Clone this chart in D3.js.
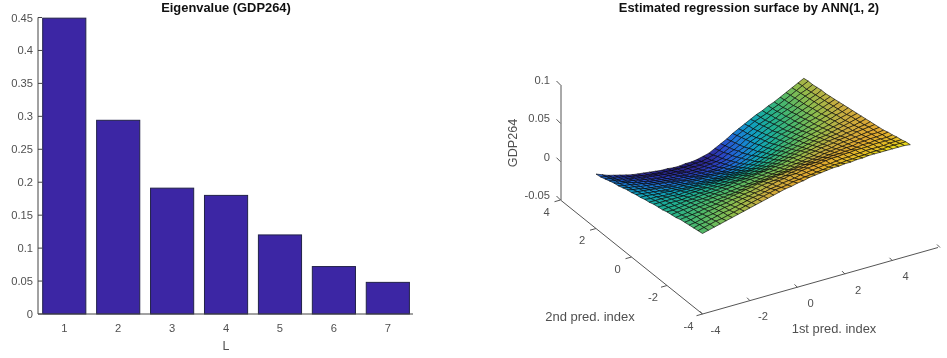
<!DOCTYPE html>
<html><head><meta charset="utf-8"><style>html,body{margin:0;background:#fff}svg{display:block;filter:blur(.3px)}text{font-family:"Liberation Sans",Arial,sans-serif;fill:#505050}</style>
<script src="https://cdn.jsdelivr.net/npm/d3@7"></script></head><body><svg id="c" width="947" height="358"></svg>
<script>
const categories=[1,2,3,4,5,6,7];
const eigenvalues=[.449,.294,.191,.18,.12,.072,.048];
const eigTicks=[0,.05,.1,.15,.2,.25,.3,.35,.4,.45];
const xGrid=[-4,-3.75,-3.5,-3.25,-3,-2.75,-2.5,-2.25,-2,-1.75,-1.5,-1.25,-1,-.75,-.5,-.25,0,.25,.5,.75,1,1.25,1.5,1.75,2,2.25,2.5,2.75,3,3.25,3.5,3.75,4,4.25,4.5,4.75];
const yGrid=[2,1.75,1.5,1.25,1,.75,.5,.25,0,-.25,-.5,-.75,-1,-1.25,-1.5,-1.75,-2,-2.25,-2.5,-2.75,-3,-3.25,-3.5,-3.75,-4];
const zTicks=[-.05,0,.05,.1],yTicks=[4,2,0,-2,-4],xTicks=[-4,-2,0,2,4,6];
// surface height, in thousandths; one row per yGrid value, one column per xGrid value
const zMilli=[
[21,18,15,13,11,9,7,6,5,4,3,2,2,1,1,2,2,3,5,7,11,15,19,24,28,32,36,40,43,47,50,54,58,62,66,70],
[22,20,17,15,13,11,10,8,7,6,5,5,4,4,4,4,5,5,7,9,13,17,21,26,30,34,38,41,44,48,51,55,59,63,67,71],
[24,22,19,17,15,14,12,11,10,9,8,7,7,6,7,7,7,8,9,12,15,19,23,28,31,35,39,42,46,49,52,56,60,64,67,71],
[26,24,21,19,18,16,15,13,12,11,11,10,10,9,9,9,10,11,12,14,18,21,25,30,33,37,41,44,47,51,54,57,61,65,68,72],
[28,25,24,22,20,19,17,16,15,14,13,13,12,12,12,12,13,13,15,17,20,24,27,32,35,39,43,46,49,52,55,59,62,66,69,73],
[29,27,26,24,23,21,20,19,18,17,16,16,15,15,15,15,15,16,18,20,23,26,30,34,38,41,44,48,51,54,57,60,63,67,70,73],
[31,29,28,26,25,24,23,22,21,20,19,19,19,18,18,19,19,20,21,23,26,29,33,37,40,43,47,49,52,55,58,61,65,68,71,74],
[33,31,30,28,27,26,25,24,24,23,23,22,22,22,22,22,22,23,24,26,29,32,35,39,42,46,49,51,54,57,60,63,66,69,72,75],
[34,33,32,31,30,29,28,27,27,26,26,26,26,26,26,26,26,27,28,30,33,36,39,42,45,48,51,54,56,59,62,64,67,70,73,76],
[36,35,34,33,32,31,31,30,30,30,29,29,29,29,29,30,30,31,32,34,36,39,42,45,48,51,53,56,58,61,63,66,69,71,74,77],
[37,37,36,35,35,34,34,33,33,33,33,33,33,33,33,34,34,35,36,38,40,43,45,48,51,53,56,58,61,63,65,68,70,73,75,78],
[39,38,38,37,37,37,37,37,37,37,37,37,37,37,38,38,39,39,40,42,44,47,49,52,54,56,59,61,63,65,67,69,72,74,76,79],
[40,40,40,40,40,39,40,40,40,40,41,41,42,42,42,43,43,44,45,46,48,50,53,55,57,59,61,63,65,67,69,71,73,75,78,80],
[42,42,42,42,42,42,43,43,44,44,44,45,45,46,46,47,47,48,49,50,52,54,56,58,60,62,64,66,68,69,71,73,75,77,79,81],
[43,43,44,44,44,45,45,46,46,47,48,48,49,49,50,51,51,52,53,55,56,58,60,62,64,65,67,69,70,72,73,75,77,78,80,82],
[44,45,45,46,47,47,48,49,49,50,51,52,53,54,54,55,56,57,58,59,60,62,64,65,67,68,70,71,73,74,75,77,78,80,81,83],
[46,46,47,48,49,50,50,51,52,53,54,55,56,57,58,58,59,60,61,62,63,65,66,68,70,71,73,74,75,77,78,79,81,82,83,84],
[47,48,49,50,51,52,53,54,55,55,56,57,58,59,60,61,62,63,64,65,67,68,69,71,72,74,75,76,78,79,80,81,82,83,84,85],
[48,49,50,52,53,54,55,56,57,58,59,60,62,63,64,65,66,67,68,69,70,72,73,74,75,77,78,79,80,81,82,83,84,85,85,86],
[50,51,52,53,55,56,57,59,60,62,63,65,66,68,69,70,71,72,73,74,75,76,77,78,79,80,81,82,83,83,85,85,86,86,87,88],
[51,52,54,55,57,58,60,61,63,64,66,67,69,71,72,73,74,75,77,78,79,81,81,82,83,84,84,85,85,86,87,87,88,88,88,89],
[52,53,55,57,58,60,62,63,65,67,68,70,71,73,75,77,78,80,80,82,83,84,85,86,87,87,88,88,89,89,89,90,90,90,90,91],
[53,55,56,58,60,62,63,65,67,69,71,72,74,76,77,79,80,81,83,84,85,86,87,87,88,89,89,90,90,91,91,91,91,92,92,92],
[54,56,58,60,61,63,65,67,69,71,73,75,77,79,80,81,83,84,85,86,87,88,89,90,90,91,91,92,92,93,93,93,94,94,94,94],
[55,57,59,61,63,65,67,69,71,73,75,77,79,81,83,84,86,87,89,90,91,92,93,93,94,94,95,95,96,96,96,96,96,96,96,95]
];
const colourStops=[0,8,15,25,35,45,55,65,75,85,93,97];
const colourValues=['#1f1a70','#2d2a9a','#2a48c8','#1c78d8','#10a0c0','#20b090','#50b868','#90bc4c','#c8ac40','#e0a830','#e4c424','#f0f010'];

const svg=d3.select('#c');
const X=d3.scaleLinear([.5,7.5],[37.3,414.8]),Y=d3.scaleLinear([0,.45],[314,17.5]);
const f2=v=>d3.format('.2~f')(v).replace('−','-');
const txt=(x,y,s,o={})=>svg.append('text').attr('x',x).attr('y',y).attr('text-anchor',o.a||'middle').attr('dominant-baseline','central').attr('font-size',o.f||11.2).attr('font-weight',o.b?'bold':null).attr('transform',o.r?`rotate(${o.r} ${x} ${y})`:null).style('fill',o.b?'#111':null).text(s);
svg.selectAll('.b').data(eigenvalues).join('rect').attr('x',(d,i)=>X(categories[i]-.4)).attr('width',X(1.8)-X(1)).attr('y',d=>Y(d)).attr('height',d=>Y(0)-Y(d)).attr('fill','#3c26a4').attr('stroke','#22224a').attr('stroke-width',1);
const line=(a,b,c,d,w=1,col='#444')=>svg.append('line').attr('x1',a).attr('y1',b).attr('x2',c).attr('y2',d).attr('stroke',col).attr('stroke-width',w);
line(38,17.5,38,314);line(38,314,413,314);
eigTicks.forEach(v=>{line(38,Y(v),42,Y(v));txt(33,Y(v),f2(v),{a:'end'});});
categories.forEach(c=>txt(X(c),328,c));
txt(226,346,'L',{f:12.4});txt(226,7,'Eigenvalue (GDP264)',{f:12.9,b:1});txt(749,7,'Estimated regression surface by ANN(1, 2)',{f:12.9,b:1});
const sx=d3.scaleLinear([-4,6],[0,237.5]),sxv=d3.scaleLinear([-4,6],[0,-66.5]);
const sy=d3.scaleLinear([-4,4],[0,-142]),syv=d3.scaleLinear([-4,4],[0,-114]);
const sz=d3.scaleLinear([-.05,.1],[0,-115]);
const P=(x,y,z)=>[702.5+sx(x)+sy(y),314+sxv(x)+syv(y)+sz(z)];
const col=d3.scaleLinear(colourStops,colourValues).clamp(true);
const g=svg.append('g');
for(let i=xGrid.length-2;i>=0;i--)for(let k=0;k<yGrid.length-1;k++){
 const c=[[i,k],[i+1,k],[i+1,k+1],[i,k+1]];
 const pts=c.map(([a,b])=>P(xGrid[a],yGrid[b],zMilli[b][a]/1000));
 g.append('polygon').attr('points',pts.map(p=>p.join(',')).join(' ')).attr('fill',col(d3.mean(c,([a,b])=>zMilli[b][a]))).attr('stroke','#000').attr('stroke-width',.7).attr('stroke-opacity',.85);
}
line(561,85,561,200,1,'#555');
zTicks.forEach(v=>{const p=P(-4,4,v);line(p[0],p[1],p[0]-4,p[1]-4,1,'#555');txt(550,p[1]-5,f2(v),{a:'end'});});
const a=P(-4,4,-.05),b=P(-4,-4,-.05),e=P(6,-4,-.05);line(a[0],a[1],b[0],b[1],1,'#555');line(b[0],b[1],e[0]-2,e[1],1,'#555');
yTicks.forEach(v=>{const p=P(-4,v,-.05);line(p[0],p[1],p[0]-6,p[1]+1.7,1,'#555');txt(p[0]-14,p[1]+11.5,v);});
xTicks.forEach(v=>{const p=P(v,-4,-.05);line(p[0],p[1],p[0]-3,p[1]-3,1,'#555');txt(p[0]+13,p[1]+15.5,v);});
txt(512.5,143,'GDP264',{f:12.6,r:-90});txt(590,316.5,'2nd pred. index',{f:13});txt(834,328,'1st pred. index',{f:12.9});
</script></body></html>
